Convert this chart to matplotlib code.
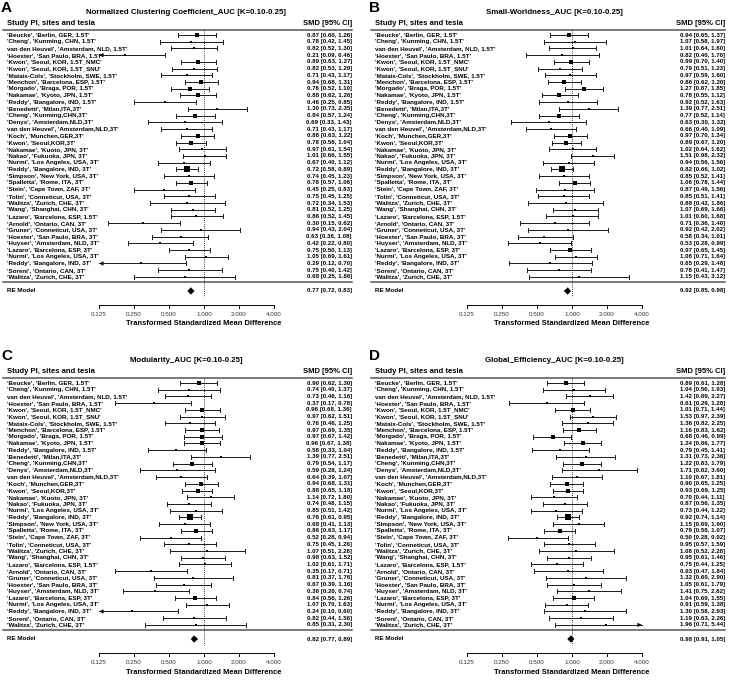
import numpy as np
import matplotlib.pyplot as plt
from matplotlib.patches import Polygon

plt.rcParams["font.family"] = ["Liberation Sans", "DejaVu Sans"]

STUDIES = [
    "'Beucke', 'Berlin, GER, 1.5T'",
    "'Cheng', 'Kunming, CHN, 1.5T'",
    "van den Heuvel', 'Amsterdam, NLD, 1.5T'",
    "'Hoexter', 'San Paulo, BRA, 1.5T'",
    "'Kwon', 'Seoul, KOR, 1.5T_NMC'",
    "'Kwon', 'Seoul, KOR, 1.5T_SNU'",
    "'Mataix-Cols', 'Stockholm, SWE, 1.5T'",
    "'Menchon', 'Barcelona, ESP, 1.5T'",
    "'Morgado', 'Braga, POR, 1.5T'",
    "'Nakamae', 'Kyoto, JPN, 1.5T'",
    "'Reddy', 'Bangalore, IND, 1.5T'",
    "'Benedetti', 'Milan,ITA,3T'",
    "'Cheng', 'Kunming,CHN,3T'",
    "'Denys', 'Amsterdam,NLD,3T'",
    "van den Heuvel', 'Amsterdam,NLD,3T'",
    "'Koch', 'Munchen,GER,3T'",
    "'Kwon', 'Seoul,KOR,3T'",
    "'Nakamae', 'Kuoto, JPN, 3T'",
    "'Nakao', 'Fukuoka, JPN, 3T'",
    "'Nurmi', 'Los Angeles, USA, 3T'",
    "'Reddy', 'Bangalore, IND, 3T'",
    "'Simpson', 'New York, USA, 3T'",
    "'Spalletta', 'Rome, ITA, 3T'",
    "'Stein', 'Cape Town, ZAF, 3T'",
    "'Tolin', 'Conneticut, USA, 3T'",
    "'Walitza', 'Zurich, CHE, 3T'",
    "'Wang', 'Shanghai, CHN, 3T'",
    "'Lazaro', 'Barcelona, ESP, 1.5T'",
    "'Arnold', 'Ontario, CAN, 3T'",
    "'Gruner', 'Conneticut, USA, 3T'",
    "'Hoexter', 'San Paulo, BRA, 3T'",
    "'Huyser', 'Amsterdam, NLD, 3T'",
    "'Lazaro', 'Barcelona, ESP, 3T'",
    "'Nurmi', 'Los Angeles, USA, 3T'",
    "'Reddy', 'Bangalore, IND, 3T'",
    "'Soreni', 'Ontario, CAN, 3T'",
    "'Walitza', 'Zurich, CHE, 3T'",
]

TICKS = [0.125, 0.25, 0.5, 1.0, 2.0, 4.0]
TICK_LABELS = ["0.125", "0.250", "0.500", "1.000", "2.000", "4.000"]

# A: normalized clustering coefficient
A_EST = [0.87, 0.78, 0.82, 0.21, 0.89, 0.82, 0.71, 0.94, 0.76, 0.88, 0.46, 1.30, 0.84,
         0.69, 0.71, 0.88, 0.78, 0.97, 1.01, 0.67, 0.72, 0.74, 0.78, 0.45, 0.75, 0.72,
         0.81, 0.86, 0.30, 0.94, 0.63, 0.42, 0.75, 1.05, 0.29, 0.75, 0.68]
A_LB = [0.60, 0.42, 0.52, 0.09, 0.63, 0.53, 0.43, 0.68, 0.52, 0.62, 0.25, 0.73, 0.57,
        0.33, 0.43, 0.63, 0.58, 0.61, 0.66, 0.40, 0.58, 0.45, 0.57, 0.25, 0.45, 0.34,
        0.52, 0.52, 0.15, 0.43, 0.36, 0.22, 0.50, 0.69, 0.12, 0.40, 0.25]
A_UB = [1.26, 1.45, 1.30, 0.46, 1.27, 1.29, 1.17, 1.31, 1.10, 1.26, 0.85, 2.35, 1.24,
        1.43, 1.17, 1.22, 1.04, 1.54, 1.55, 1.12, 0.89, 1.23, 1.06, 0.83, 1.25, 1.53,
        1.25, 1.45, 0.62, 2.04, 1.08, 0.80, 1.13, 1.61, 0.70, 1.42, 1.86]
A_RE = [0.77, 0.72, 0.83]

# B: small-worldness
B_EST = [0.94, 1.07, 1.01, 0.82, 0.99, 0.79, 0.97, 0.86, 1.27, 0.78, 0.92, 1.39, 0.77,
         0.63, 0.66, 0.97, 0.89, 1.02, 1.51, 0.94, 0.82, 0.85, 1.06, 0.87, 0.85, 0.88,
         1.07, 1.01, 0.71, 0.92, 0.58, 0.53, 0.97, 1.08, 0.65, 0.78, 1.15]
B_LB = [0.65, 0.58, 0.64, 0.40, 0.70, 0.51, 0.59, 0.62, 0.87, 0.55, 0.52, 0.77, 0.52,
        0.30, 0.40, 0.70, 0.67, 0.64, 0.98, 0.56, 0.66, 0.52, 0.78, 0.49, 0.51, 0.42,
        0.69, 0.60, 0.36, 0.42, 0.34, 0.28, 0.65, 0.71, 0.29, 0.41, 0.43]
B_UB = [1.37, 1.97, 1.60, 1.70, 1.40, 1.23, 1.60, 1.20, 1.85, 1.12, 1.63, 2.51, 1.14,
        1.32, 1.09, 1.34, 1.20, 1.62, 2.32, 1.56, 1.02, 1.41, 1.44, 1.56, 1.41, 1.86,
        1.66, 1.68, 1.40, 2.02, 1.01, 0.99, 1.45, 1.64, 1.48, 1.47, 3.12]
B_RE = [0.92, 0.85, 0.98]

# C: modularity
C_EST = [0.90, 0.74, 0.73, 0.37, 0.96, 0.97, 0.76, 0.97, 0.97, 0.96, 0.58, 1.39, 0.79,
         0.59, 0.64, 0.94, 0.88, 1.14, 0.74, 0.85, 0.76, 0.68, 0.86, 0.52, 0.75, 1.07,
         0.98, 1.02, 0.35, 0.81, 0.67, 0.38, 0.84, 1.07, 0.24, 0.82, 0.85]
C_LB = [0.62, 0.40, 0.46, 0.17, 0.68, 0.62, 0.46, 0.69, 0.67, 0.67, 0.33, 0.77, 0.54,
        0.28, 0.39, 0.68, 0.65, 0.72, 0.48, 0.51, 0.61, 0.41, 0.63, 0.28, 0.45, 0.51,
        0.63, 0.61, 0.17, 0.37, 0.39, 0.20, 0.56, 0.70, 0.10, 0.44, 0.31]
C_UB = [1.30, 1.37, 1.16, 0.78, 1.36, 1.51, 1.25, 1.35, 1.42, 1.38, 1.04, 2.51, 1.17,
        1.24, 1.07, 1.31, 1.18, 1.80, 1.15, 1.42, 0.95, 1.13, 1.17, 0.94, 1.26, 2.26,
        1.52, 1.71, 0.71, 1.76, 1.16, 0.74, 1.26, 1.63, 0.60, 1.56, 2.30]
C_RE = [0.82, 0.77, 0.89]

# D: global efficiency
D_EST = [0.89, 1.04, 1.42, 0.61, 1.01, 1.53, 1.36, 1.16, 0.68, 1.24, 0.79, 1.31, 1.22,
         1.71, 1.10, 0.90, 0.93, 0.70, 0.87, 0.73, 0.92, 1.15, 0.79, 0.50, 0.95, 1.08,
         0.95, 0.75, 0.93, 1.32, 1.05, 1.41, 1.04, 0.91, 1.30, 1.19, 1.96]
D_LB = [0.61, 0.56, 0.89, 0.29, 0.71, 0.97, 0.82, 0.83, 0.46, 0.86, 0.45, 0.73, 0.83,
        0.82, 0.67, 0.65, 0.69, 0.44, 0.56, 0.44, 0.74, 0.69, 0.58, 0.28, 0.57, 0.52,
        0.61, 0.44, 0.47, 0.60, 0.61, 0.75, 0.69, 0.59, 0.58, 0.63, 0.71]
D_UB = [1.28, 1.93, 2.27, 1.28, 1.44, 2.39, 2.25, 1.62, 0.99, 1.77, 1.41, 2.36, 1.79,
        3.60, 1.81, 1.25, 1.25, 1.11, 1.35, 1.22, 1.14, 1.90, 1.07, 0.92, 1.59, 2.28,
        1.46, 1.25, 1.84, 2.90, 1.79, 2.62, 1.55, 1.38, 2.93, 2.26, 5.44]
D_RE = [0.98, 0.91, 1.05]

W, H = 729, 684
PW, PH = 361, 336          # panel size in pixels
ROW0, ROWH = 35, 6.72      # first row offset and row height (pixels)
UNIT = 35                  # pixels per doubling
ONE = 204                  # pixel of the 1.0 line inside a panel
FS = 4.5


def rows(p):
    return (p - ROW0) / ROWH


def cols(p):
    return (p - ONE) / UNIT


def draw_panel(ax, letter, title, est, lb, ub, re, right):
    ax.set_xlim(cols(0), cols(PW))
    ax.set_ylim(rows(PH), rows(0))
    ax.axis("off")
    lo, hi = np.log2(TICKS[0]), np.log2(TICKS[-1])
    xr = cols(right)

    ax.text(cols(1), rows(8.5), letter, fontsize=11, fontweight="bold", va="center", ha="left")
    ax.text(cols(186), rows(12), title, fontsize=5.7, fontweight="bold", va="center", ha="center")
    ax.text(cols(7), rows(23.5), "Study PI, sites and tesla", fontsize=5.5, fontweight="bold",
            va="center", ha="left")
    ax.text(xr, rows(23.5), "SMD [95% CI]", fontsize=5.5, fontweight="bold",
            va="center", ha="right")
    ax.plot([cols(3), xr], [rows(30)] * 2, color="#555555", lw=1.1)
    ax.plot([cols(3), xr], [rows(282)] * 2, color="#555555", lw=1.1)
    ax.plot([0, 0], [rows(30), rows(297)], color="black", lw=0.6, ls=(0, (1, 1.5)))

    est, lb, ub = np.array(est), np.array(lb), np.array(ub)
    se = (np.log(ub) - np.log(lb)) / 3.92
    w = 1 / se ** 2
    psize = 0.5 + (w - w.min()) / (w.max() - w.min())

    for k, (e, l, u) in enumerate(zip(est, lb, ub)):
        xe, xl, xu = np.log2(e), np.log2(l), np.log2(u)
        cl, cu = max(xl, lo), min(xu, hi)
        ax.plot([cl, cu], [k, k], color="#1a1a1a", lw=0.7)
        if xl < lo:
            ax.add_patch(Polygon([(cl, k), (cl + 0.13, k - 0.32), (cl + 0.13, k + 0.32)],
                                 closed=True, color="black", lw=0))
        else:
            ax.plot([cl, cl], [k - 0.3, k + 0.3], color="#1a1a1a", lw=0.7)
        if xu > hi:
            ax.add_patch(Polygon([(cu, k), (cu - 0.13, k - 0.32), (cu - 0.13, k + 0.32)],
                                 closed=True, color="black", lw=0))
        else:
            ax.plot([cu, cu], [k - 0.3, k + 0.3], color="#1a1a1a", lw=0.7)
        ax.plot(xe, k, marker="s", ms=2.9 * psize[k], color="black", mew=0)
        ax.text(cols(7), k, STUDIES[k], fontsize=FS, fontweight="bold", va="center", ha="left")
        ax.text(xr, k, f"{e:.2f} [{l:.2f}, {u:.2f}]", fontsize=4.4, fontweight="bold",
                va="center", ha="right")

    kr = rows(291)
    e, l, u = np.log2(re)
    ax.add_patch(Polygon([(l, kr), (e, kr - 0.55), (u, kr), (e, kr + 0.55)], closed=True,
                         color="black", lw=0))
    ax.text(cols(7), kr, "RE Model", fontsize=FS, fontweight="bold", va="center", ha="left")
    ax.text(xr, kr, f"{re[0]:.2f} [{re[1]:.2f}, {re[2]:.2f}]", fontsize=4.4,
            fontweight="bold", va="center", ha="right")

    ka = rows(305)
    ax.plot([lo, hi], [ka, ka], color="black", lw=0.7)
    for t, lab in zip(TICKS, TICK_LABELS):
        x = np.log2(t)
        ax.plot([x, x], [ka, ka + 0.5], color="black", lw=0.7)
        ax.text(x, rows(315), lab, fontsize=FS, color="#333333", va="center", ha="center")
    ax.text(0, rows(324), "Transformed Standardized Mean Difference", fontsize=5.4,
            fontweight="bold", va="center", ha="center")


fig = plt.figure(figsize=(W / 100, H / 100), dpi=100)
panels = [
    ("A", "Normalized Clustering Coefficient_AUC [K=0.10-0.25]", A_EST, A_LB, A_UB, A_RE, 0, 0, 352),
    ("B", "Small-Worldness_AUC [K=0.10-0.25]", B_EST, B_LB, B_UB, B_RE, 368, 0, 357),
    ("C", "Modularity_AUC [K=0.10-0.25]", C_EST, C_LB, C_UB, C_RE, 0, 348, 352),
    ("D", "Global_Efficiency_AUC [K=0.10-0.25]", D_EST, D_LB, D_UB, D_RE, 368, 348, 357),
]
for letter, title, est, lb, ub, re, x0, y0, right in panels:
    ax = fig.add_axes([x0 / W, 1 - (y0 + PH) / H, PW / W, PH / H])
    draw_panel(ax, letter, title, est, lb, ub, re, right)

fig.savefig("out.png", dpi=100)
